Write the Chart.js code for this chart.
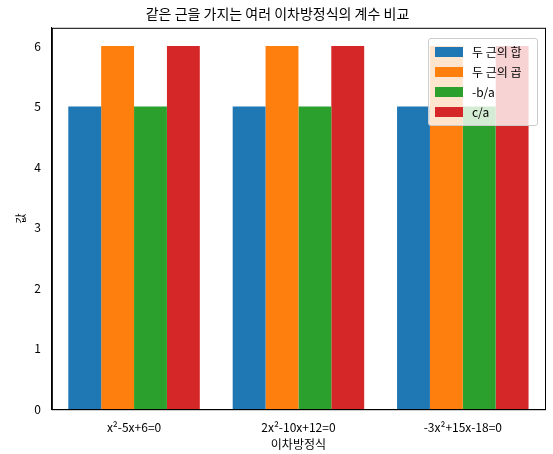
<!DOCTYPE html>
<html><head><meta charset="utf-8">
<script src="https://cdn.jsdelivr.net/npm/chart.js@4/dist/chart.umd.min.js"></script>
<style>
body{margin:0;background:#fff;font-family:"Noto Sans CJK KR";}
#wrap{position:relative;width:553px;height:454px;}
#legend{position:absolute;left:428px;top:38px;width:110px;background:rgba(255,255,255,0.8);border:1px solid #ccc;border-radius:3px;padding:3px 0 3px 6px;font-size:12px;box-sizing:border-box;}
#legend div{height:20px;line-height:20px;display:flex;align-items:center;}
#legend span{display:inline-block;width:28px;height:10px;margin-right:9px;}
</style></head>
<body><div id="wrap"><canvas id="c" width="553" height="454"></canvas><div id="legend"></div></div>
<script>
const equations = ['x²-5x+6=0', '2x²-10x+12=0', '-3x²+15x-18=0'];
const sumRoots = [5, 5, 5];
const prodRoots = [6, 6, 6];
const negBA = [5, 5, 5];
const cA = [6, 6, 6];
const seriesNames = ['두 근의 합', '두 근의 곱', '-b/a', 'c/a'];
const colors = ['#1f77b4', '#ff7f0e', '#2ca02c', '#d62728'];
const yTicks = [0, 1, 2, 3, 4, 5, 6];

const series = [sumRoots, prodRoots, negBA, cA];
const font = {family: '"Noto Sans CJK KR"', size: 12};

new Chart(document.getElementById('c'), {
  type: 'bar',
  data: {
    labels: equations,
    datasets: series.map((d, i) => ({label: seriesNames[i], data: d, backgroundColor: colors[i],
      categoryPercentage: 0.8, barPercentage: 1.0}))
  },
  options: {
    responsive: false, animation: false,
    layout: {padding: {left: 10, right: 8, top: 0, bottom: 2}},
    plugins: {
      legend: {display: false},
      title: {display: true, text: '같은 근을 가지는 여러 이차방정식의 계수 비교', color: '#000',
        font: {family: font.family, size: 14, weight: 'normal'}, padding: {top: 5, bottom: 6}}
    },
    scales: {
      x: {grid: {display: false, drawTicks: true}, border: {color: '#000'},
        ticks: {color: '#000', font: font},
        title: {display: true, text: '이차방정식', color: '#000', font: font, padding: 0}},
      y: {min: 0, max: 6.3, afterBuildTicks: a => { a.ticks = yTicks.map(v => ({value: v})); },
        grid: {display: false, drawTicks: true}, border: {color: '#000'},
        ticks: {color: '#000', font: font},
        title: {display: true, text: '값', color: '#000', font: {family: font.family, size: 11}}}
    }
  },
  plugins: [{id: 'box', afterDraw(ch) {
    const a = ch.chartArea, x = ch.ctx;
    x.save(); x.strokeStyle = '#000'; x.lineWidth = 1;
    x.strokeRect(a.left + 0.5, a.top + 0.5, a.right - a.left, a.bottom - a.top); x.restore();
  }}]
});
document.getElementById('legend').innerHTML = seriesNames.map((n, i) =>
  `<div><span style="background:${colors[i]}"></span>${n}</div>`).join('');
</script></body></html>
